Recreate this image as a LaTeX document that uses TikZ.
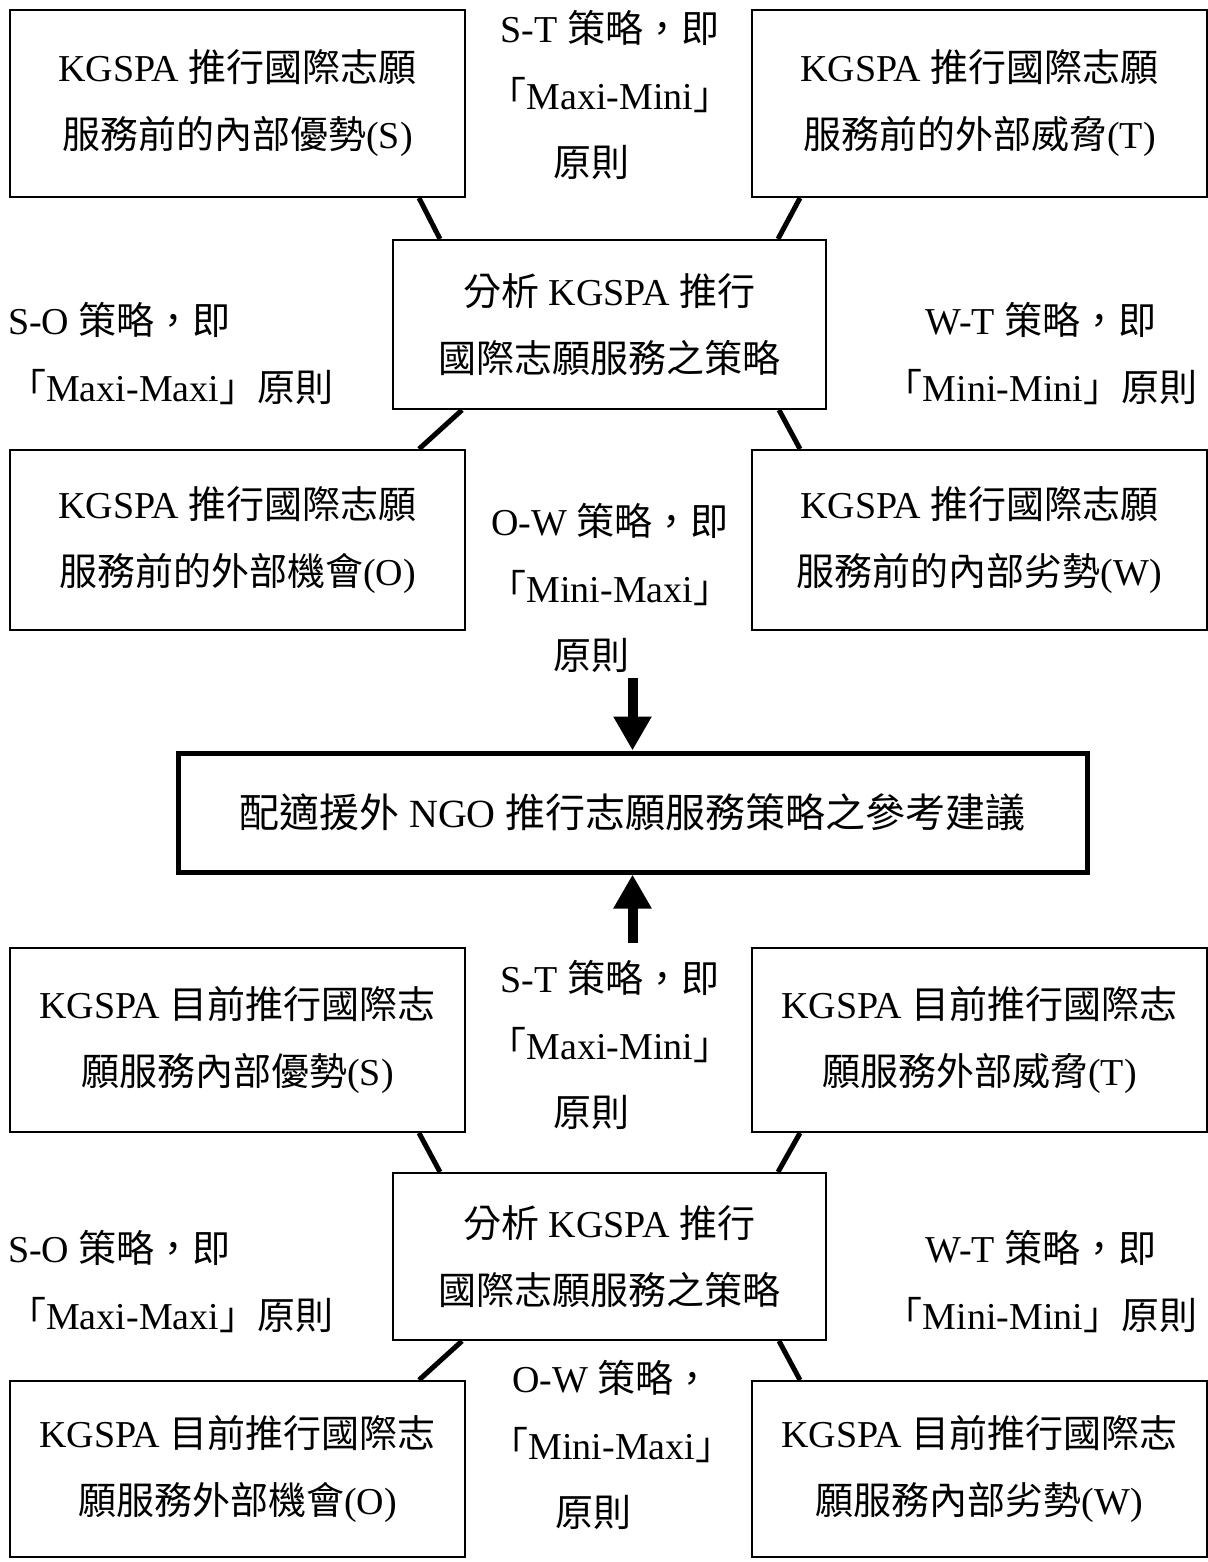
\documentclass[tikz,border=0pt]{standalone}
\usepackage{fontspec}
\setmainfont{Liberation Serif}
\newfontfamily\cjk{Noto Sans CJK TC}
\usetikzlibrary{arrows.meta}

\newcommand{\zh}[1]{{\cjk #1}}

\begin{document}
\begin{tikzpicture}[x=1pt, y=-1pt,
    font=\fontsize{38pt}{67pt}\selectfont,
    box/.style={draw, line width=2pt, minimum width=455pt, align=center, inner sep=0pt},
    hub/.style={draw, line width=2pt, minimum width=433pt, align=center, inner sep=0pt},
    tag/.style={align=center, inner sep=0pt},
    link/.style={line width=5pt},
    bigarrow/.style={line width=10pt, -{Triangle[width=36pt, length=34pt]}}]
    \useasboundingbox (0,0) rectangle (1207,1562);

    % Upper SWOT (before)
    \node[box, minimum height=187pt] (sTop) at (237.5,103.5)
        {KGSPA \zh{推行國際志願}\\\zh{服務前的內部優勢}(S)};
    \node[box, minimum height=187pt] (tTop) at (979.5,103.5)
        {KGSPA \zh{推行國際志願}\\\zh{服務前的外部威脅}(T)};
    \node[hub, minimum height=169pt] (cTop) at (609.5,324.5)
        {\zh{分析} KGSPA \zh{推行}\\\zh{國際志願服務之策略}};
    \node[box, minimum height=180pt] (oTop) at (237.5,540)
        {KGSPA \zh{推行國際志願}\\\zh{服務前的外部機會}(O)};
    \node[box, minimum height=180pt] (wTop) at (979.5,540)
        {KGSPA \zh{推行國際志願}\\\zh{服務前的內部劣勢}(W)};

    \draw[link] ([xshift=-47pt]sTop.south east) -- ([xshift=48pt]cTop.north west);
    \draw[link] ([xshift=49pt]tTop.south west) -- ([xshift=-49pt]cTop.north east);
    \draw[link] ([xshift=70pt]cTop.south west) -- ([xshift=-47pt]oTop.north east);
    \draw[link] ([xshift=-48pt]cTop.south east) -- ([xshift=49pt]wTop.north west);

    % Strategy labels (before)
    \node[tag] (stTop) at (610,95)
        {S-T \zh{策略，即}\\\zh{「}Maxi-Mini\zh{」}\\\zh{原則}\hspace*{1em}};
    \node[tag, anchor=west, align=left] (soTop) at (8,354)
        {S-O \zh{策略，即}\\\zh{「}Maxi-Maxi\zh{」原則}};
    \node[tag] (wtTop) at (1041,354)
        {W-T \zh{策略，即}\\\zh{「}Mini-Mini\zh{」原則}};
    \node[tag] (owTop) at (610,588)
        {O-W \zh{策略，即}\\\zh{「}Mini-Maxi\zh{」}\\\zh{原則}\hspace*{1em}};

    % Result
    \node[draw, line width=5pt, minimum width=909pt, minimum height=119pt, inner sep=0pt,
          font=\fontsize{40pt}{60pt}\selectfont] (advice) at (632.5,812.5)
        {\zh{配適援外} NGO \zh{推行志願服務策略之參考建議}};
    \coordinate (downTail) at (632.5,678);
    \coordinate (upTail) at (632.5,943);
    \draw[bigarrow] (downTail) -- (advice.north);
    \draw[bigarrow] (upTail) -- (advice.south);

    % Lower SWOT (current)
    \node[box, minimum height=184pt] (sBot) at (237.5,1040)
        {KGSPA \zh{目前推行國際志}\\\zh{願服務內部優勢}(S)};
    \node[box, minimum height=184pt] (tBot) at (979.5,1040)
        {KGSPA \zh{目前推行國際志}\\\zh{願服務外部威脅}(T)};
    \node[hub, minimum height=167pt] (cBot) at (609.5,1256.5)
        {\zh{分析} KGSPA \zh{推行}\\\zh{國際志願服務之策略}};
    \node[box, minimum height=176pt] (oBot) at (237.5,1469)
        {KGSPA \zh{目前推行國際志}\\\zh{願服務外部機會}(O)};
    \node[box, minimum height=176pt] (wBot) at (979.5,1469)
        {KGSPA \zh{目前推行國際志}\\\zh{願服務內部劣勢}(W)};

    \draw[link] ([xshift=-47pt]sBot.south east) -- ([xshift=48pt]cBot.north west);
    \draw[link] ([xshift=49pt]tBot.south west) -- ([xshift=-49pt]cBot.north east);
    \draw[link] ([xshift=70pt]cBot.south west) -- ([xshift=-47pt]oBot.north east);
    \draw[link] ([xshift=-48pt]cBot.south east) -- ([xshift=49pt]wBot.north west);

    % Strategy labels (current)
    \node[tag] (stBot) at (610,1045)
        {S-T \zh{策略，即}\\\zh{「}Maxi-Mini\zh{」}\\\zh{原則}\hspace*{1em}};
    \node[tag, anchor=west, align=left] (soBot) at (8,1282)
        {S-O \zh{策略，即}\\\zh{「}Maxi-Maxi\zh{」原則}};
    \node[tag] (wtBot) at (1041,1282)
        {W-T \zh{策略，即}\\\zh{「}Mini-Mini\zh{」原則}};
    \node[tag] (owBot) at (612,1445)
        {O-W \zh{策略，}\\\zh{「}Mini-Maxi\zh{」}\\\zh{原則}\hspace*{1em}};
\end{tikzpicture}
\end{document}
